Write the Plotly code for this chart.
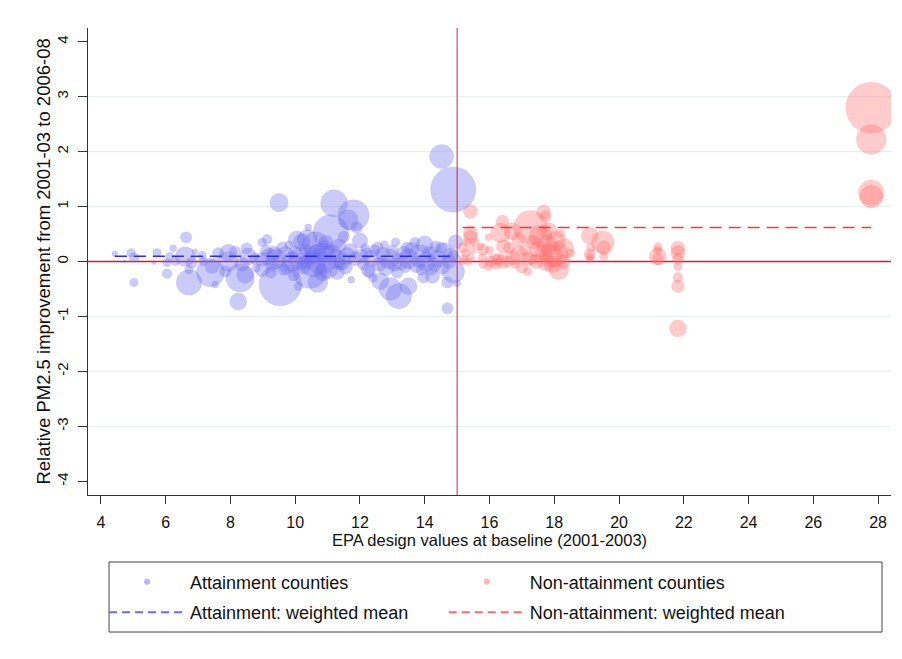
from plotly import graph_objects as go

# attainment counties (x = design value, y = relative improvement, pop = county weight)
att_x = [4.43, 4.74, 4.93, 5.02, 5.02, 5.64, 5.73, 6.04, 6.04, 6.13,
         6.23, 6.30, 6.60, 6.63, 6.72, 6.72, 6.80, 6.90, 7.12, 7.16,
         7.38, 7.43, 7.53, 7.62, 7.84, 7.93, 7.93, 8.14, 8.24, 8.30,
         8.36, 8.45, 8.50, 8.55, 8.75, 8.80, 8.98, 8.98, 8.98, 9.10,
         9.13, 9.20, 9.25, 9.30, 9.40, 9.50, 9.54, 9.60, 9.70, 9.75,
         9.80, 9.90, 9.95, 10.00, 10.05, 10.10, 10.15, 10.20, 10.25, 10.30,
         10.37, 10.40, 10.45, 10.50, 10.55, 10.62, 10.70, 10.75, 10.80, 10.85,
         10.90, 10.95, 11.00, 11.10, 11.20, 11.15, 11.25, 11.30, 11.35, 11.45,
         11.50, 11.55, 11.60, 11.64, 11.73, 11.80, 11.85, 11.90, 12.00, 12.05,
         12.10, 12.20, 12.25, 12.30, 12.35, 12.45, 12.54, 12.60, 12.63, 12.70,
         12.80, 12.90, 12.94, 13.00, 13.10, 13.15, 13.20, 13.25, 13.35, 13.40,
         13.50, 13.50, 13.60, 13.70, 13.75, 13.85, 13.96, 14.00, 14.05, 14.15,
         14.20, 14.24, 14.33, 14.40, 14.52, 14.55, 14.60, 14.70, 14.70, 14.75,
         14.88, 14.88, 14.95, 15.00, 14.90, 9.35, 9.65, 10.35, 10.65, 11.40,
         11.70, 12.15, 12.75, 13.05, 13.45, 13.90, 14.30, 14.50, 14.80, 12.40]
att_y = [0.14, 0.00, 0.16, 0.07, -0.38, -0.02, 0.16, -0.02, -0.22, 0.09,
         0.24, 0.00, 0.09, 0.44, -0.15, -0.38, -0.02, 0.18, 0.11, 0.00,
         -0.20, -0.09, -0.42, 0.15, -0.18, 0.16, 0.00, 0.18, -0.73, -0.30,
         -0.05, -0.24, 0.24, 0.09, 0.05, -0.12, 0.35, 0.04, -0.15, 0.20,
         0.40, 0.08, -0.20, -0.05, 0.05, 1.07, -0.42, 0.25, 0.12, -0.10,
         0.30, 0.00, -0.25, 0.15, 0.40, -0.45, 0.05, 0.35, -0.10, 0.22,
         0.40, 0.62, -0.18, 0.10, -0.05, 0.31, -0.38, 0.12, 0.05, -0.20,
         0.20, 0.35, -0.10, 0.53, 1.06, 0.15, 0.05, -0.20, 0.28, 0.00,
         0.45, -0.10, 0.10, 0.76, -0.33, 0.84, 0.05, 0.62, 0.38, 0.10,
         -0.05, 0.15, -0.15, -0.20, 0.05, 0.20, 0.25, -0.05, -0.36, 0.13,
         -0.10, 0.05, -0.50, 0.20, 0.35, -0.20, -0.63, 0.00, 0.15, -0.10,
         -0.45, 0.05, 0.22, 0.35, -0.05, 0.10, -0.29, 0.31, 0.00, 0.15,
         -0.15, -0.27, 0.27, 0.05, 1.91, -0.10, 0.18, -0.38, -0.85, 0.00,
         1.31, -0.18, 0.36, -0.40, 0.10, 0.15, -0.15, 0.00, 0.18, -0.05,
         0.20, 0.25, 0.30, -0.05, 0.25, -0.15, -0.05, 0.25, 0.12, -0.30]
att_pop = [40, 10, 90, 120, 90, 20, 90, 90, 120, 90,
           60, 90, 490, 160, 90, 810, 160, 40, 90, 90,
           1000, 250, 60, 160, 160, 360, 490, 160, 360, 1000,
           250, 360, 160, 360, 160, 90, 90, 250, 250, 160,
           120, 360, 160, 250, 490, 420, 2250, 160, 360, 250,
           90, 490, 160, 250, 360, 90, 640, 360, 250, 160,
           490, 60, 1440, 360, 810, 810, 490, 250, 1210, 360,
           490, 250, 640, 1560, 900, 360, 490, 250, 250, 360,
           160, 250, 360, 490, 60, 1210, 250, 160, 300, 250,
           160, 160, 250, 160, 360, 160, 160, 250, 360, 250,
           360, 490, 640, 160, 90, 160, 810, 360, 250, 160,
           360, 490, 250, 120, 360, 640, 160, 360, 490, 250,
           160, 250, 160, 360, 720, 250, 360, 160, 160, 250,
           2560, 640, 250, 60, 160, 250, 160, 250, 250, 160,
           250, 90, 90, 250, 160, 160, 250, 160, 250, 90]

# non-attainment counties
non_x = [15.41, 15.41, 15.41, 15.17, 15.26, 15.20, 15.41, 15.17, 15.35, 15.47,
         15.72, 15.80, 15.78, 15.80, 15.97, 15.97, 16.03, 16.18, 16.28, 16.34,
         16.40, 16.43, 16.40, 16.56, 16.70, 16.74, 16.90, 16.90, 17.00, 17.18,
         17.27, 17.33, 17.36, 17.50, 17.58, 17.67, 17.67, 17.73, 17.83, 17.95,
         18.04, 18.04, 18.14, 18.28, 18.30, 17.80, 17.90, 17.75, 16.00, 16.20,
         16.60, 16.80, 15.55, 15.30, 17.10, 17.20, 17.45, 18.50, 18.20, 19.10,
         19.10, 19.10, 19.10, 19.13, 19.50, 19.53, 19.53, 21.20, 21.20, 21.20,
         21.20, 21.82, 21.82, 21.82, 21.82, 21.82, 21.82, 21.82, 27.79, 27.79,
         27.79, 27.79]
non_y = [0.91, 0.52, 0.44, 0.25, 0.16, 0.05, 0.07, 0.00, 0.00, 0.22,
         0.27, 0.22, 0.07, -0.05, 0.44, -0.09, 0.00, 0.04, 0.04, 0.52,
         0.73, 0.27, 0.00, 0.00, 0.55, 0.07, 0.40, 0.13, -0.11, -0.18,
         0.62, 0.04, 0.35, 0.22, 0.46, 0.16, 0.90, 0.82, 0.55, -0.05,
         0.37, 0.13, -0.15, 0.00, 0.24, 0.30, 0.10, -0.02, 0.20, -0.05,
         0.25, -0.05, 0.35, 0.35, 0.20, 0.05, 0.00, 0.15, 0.50, 0.47,
         0.13, 0.09, 0.05, 0.25, 0.35, 0.25, 0.09, 0.27, 0.20, 0.09,
         0.04, 0.24, 0.16, 0.05, -0.09, -0.29, -0.45, -1.22, 2.80, 2.22,
         1.25, 1.18]
non_pop = [250, 250, 250, 120, 90, 90, 90, 60, 60, 90,
           60, 160, 90, 90, 60, 90, 160, 160, 160, 490,
           200, 250, 250, 160, 360, 250, 250, 360, 160, 90,
           1440, 160, 250, 360, 640, 360, 250, 160, 360, 360,
           490, 810, 490, 250, 490, 490, 640, 360, 90, 120,
           160, 90, 90, 90, 160, 250, 250, 90, 90, 360,
           160, 90, 60, 90, 640, 250, 90, 90, 90, 360,
           160, 250, 250, 160, 90, 120, 200, 360, 3240, 1100,
           810, 640]

att_wmean = 0.095
non_wmean = 0.62
threshold = 15

x_range = [3.6, 28.4]
y_range = [-4.25, 4.25]
y_ticks = list(range(-4, 5))
y_ticktext = [str(v) for v in y_ticks]
x_ticks = list(range(4, 29, 2))

blue = "rgba(110,110,240,0.5)"
red = "rgba(255,110,110,0.5)"
font = "Liberation Sans, Arial, sans-serif"

fig = go.Figure()

# zero reference line, drawn first so the bubbles sit on top of it
fig.add_trace(go.Scatter(
    x=x_range, y=[0, 0], mode="lines", showlegend=False, hoverinfo="skip",
    line=dict(color="#e3103c", width=1.3)))

fig.add_trace(go.Scatter(
    x=att_x, y=att_y, mode="markers", showlegend=False,
    marker=dict(size=att_pop, sizemode="area", sizeref=2.5, color=blue,
                line=dict(color="rgba(110,110,240,0.35)", width=0.6))))
fig.add_trace(go.Scatter(
    x=non_x, y=non_y, mode="markers", showlegend=False,
    marker=dict(size=non_pop, sizemode="area", sizeref=2.5, color=red,
                line=dict(color="rgba(255,110,110,0.35)", width=0.6))))

# weighted mean lines over each group's range
fig.add_trace(go.Scatter(
    x=[min(att_x), max(att_x)], y=[att_wmean, att_wmean], mode="lines",
    showlegend=False, line=dict(color="#2b2bef", width=1.5, dash="12px,7px")))
fig.add_trace(go.Scatter(
    x=[min(non_x), max(non_x)], y=[non_wmean, non_wmean], mode="lines",
    showlegend=False, line=dict(color="#ff3535", width=1.5, dash="12px,7px")))

# legend entries
fig.add_trace(go.Scatter(x=[None], y=[None], mode="markers", name="Attainment counties",
                         legend="legend", legendgroup="a1",
                         marker=dict(size=6, color=blue)))
fig.add_trace(go.Scatter(x=[None], y=[None], mode="lines", name="Attainment: weighted mean",
                         legend="legend", legendgroup="a2",
                         line=dict(color="#6b6bf5", width=2, dash="8px,5px")))
fig.add_trace(go.Scatter(x=[None], y=[None], mode="markers", name="Non-attainment counties",
                         legend="legend2", legendgroup="n1",
                         marker=dict(size=6, color=red)))
fig.add_trace(go.Scatter(x=[None], y=[None], mode="lines", name="Non-attainment: weighted mean",
                         legend="legend2", legendgroup="n2",
                         line=dict(color="#ff6b6b", width=2, dash="8px,5px")))

# grid lines (none at the ends) and threshold line
for g in [-3, -2, -1, 1, 2, 3]:
    fig.add_shape(type="line", xref="x domain", x0=0, x1=1, yref="y", y0=g, y1=g,
                  line=dict(color="#e9f0f2", width=1.2), layer="below")
fig.add_shape(type="line", xref="x", x0=threshold, x1=threshold, yref="y domain", y0=0, y1=1,
              line=dict(color="#b3304f", width=1))

# legend box
fig.add_shape(type="rect", xref="paper", yref="paper", x0=0.0262, x1=0.9888, y0=-0.2934, y1=-0.1435,
              line=dict(color="#444444", width=1))

fig.add_annotation(text="Relative PM2.5 improvement from 2001-03 to 2006-08",
                   xref="paper", yref="paper", x=-0.056, y=0.5, xanchor="center", yanchor="middle",
                   textangle=-90, showarrow=False, font=dict(size=18.5, color="#111111"))

legend_style = dict(orientation="v", xanchor="left", yanchor="top", y=-0.147,
                    bgcolor="rgba(0,0,0,0)", borderwidth=0, tracegroupgap=4,
                    itemwidth=76,
                    font=dict(family=font, size=18, color="#111111"))
fig.update_layout(
    width=894, height=651,
    margin=dict(l=80, r=11, t=20, b=164, autoexpand=False),
    plot_bgcolor="white", paper_bgcolor="white",
    font=dict(family=font, size=15, color="#111111"),
    legend=dict(x=0.02, **legend_style),
    legend2=dict(x=0.443, **legend_style),
    xaxis=dict(range=x_range, tickmode="array", tickvals=x_ticks, automargin=False,
               showgrid=False, zeroline=False, showline=True, linecolor="#333333",
               ticks="outside", ticklen=8, tickcolor="#333333", tickfont=dict(size=16),
               ticklabelstandoff=5,
               title=dict(text="EPA design values at baseline (2001-2003)", standoff=2,
                          font=dict(size=16.5))),
    yaxis=dict(range=y_range, tickmode="array", tickvals=y_ticks, ticktext=y_ticktext,
               automargin=False,
               showgrid=False, zeroline=False,
               showline=True, linecolor="#333333",
               ticks="outside", ticklen=9, tickcolor="#333333", tickangle=-90,
               ticklabelstandoff=4, tickfont=dict(size=15)),
)

fig.write_html("out.html")
